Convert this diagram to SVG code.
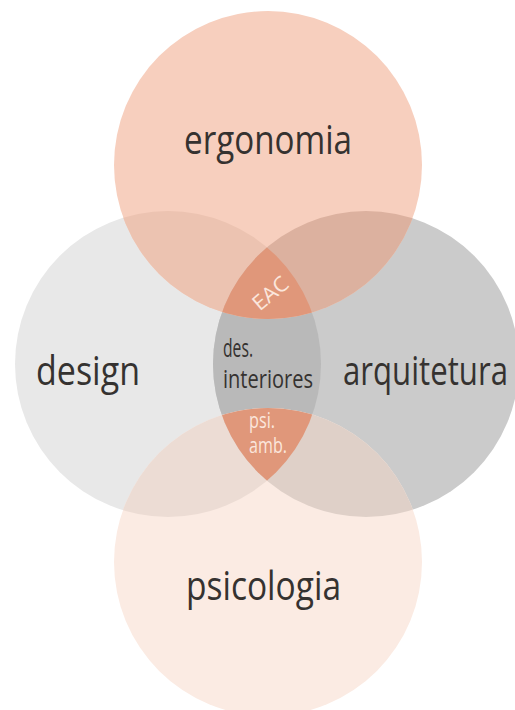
<svg xmlns="http://www.w3.org/2000/svg" width="515" height="710" viewBox="0 0 515 710">
  <defs>
    <clipPath id="clipL"><circle cx="168" cy="364" r="153"/></clipPath>
    <clipPath id="clipR"><circle cx="366" cy="364" r="153"/></clipPath>
    <style>
      .lbl { font-family: "Open Sans", "Liberation Sans", sans-serif; font-weight: 400; fill: #353230; }
      .big { font-size: 41px; }
      .mid { font-size: 26px; }
      .inv { font-family: "Open Sans", "Liberation Sans", sans-serif; font-weight: 400; fill: #fbe6dc; font-size: 21px; }
    </style>
  </defs>

  <rect width="515" height="710" fill="#ffffff"/>

  <!-- design -->
  <g id="design">
    <circle cx="168" cy="364" r="153" fill="#e8e8e8"/>
  </g>
  <!-- arquitetura -->
  <g id="arquitetura">
    <circle cx="366" cy="364" r="153" fill="#cbcbcb"/>
  </g>
  <!-- design ∩ arquitetura -->
  <g id="des-interiores-area">
    <circle cx="366" cy="364" r="153" fill="#b9b9b9" clip-path="url(#clipL)"/>
  </g>

  <!-- ergonomia -->
  <g id="ergonomia">
    <circle cx="268" cy="165" r="154" fill="#f7cfbe"/>
    <circle cx="268" cy="165" r="154" fill="#ecc3b1" clip-path="url(#clipL)"/>
    <circle cx="268" cy="165" r="154" fill="#dcb19f" clip-path="url(#clipR)"/>
    <g clip-path="url(#clipL)">
      <circle cx="268" cy="165" r="154" fill="#e0977a" clip-path="url(#clipR)"/>
    </g>
  </g>

  <!-- psicologia -->
  <g id="psicologia">
    <circle cx="268" cy="562" r="154" fill="#fbebe3"/>
    <circle cx="268" cy="562" r="154" fill="#ecdcd4" clip-path="url(#clipL)"/>
    <circle cx="268" cy="562" r="154" fill="#dfd0c8" clip-path="url(#clipR)"/>
    <g clip-path="url(#clipL)">
      <circle cx="268" cy="562" r="154" fill="#e0977a" clip-path="url(#clipR)"/>
    </g>
  </g>

  <!-- labels -->
  <g id="labels">
    <text class="lbl big" x="184" y="154" textLength="168" lengthAdjust="spacingAndGlyphs">ergonomia</text>
    <text class="lbl big" x="36" y="385" textLength="104" lengthAdjust="spacingAndGlyphs">design</text>
    <text class="lbl big" x="343" y="385" textLength="165" lengthAdjust="spacingAndGlyphs">arquitetura</text>
    <text class="lbl big" x="186" y="600" textLength="155" lengthAdjust="spacingAndGlyphs">psicologia</text>
    <text class="lbl mid" x="223" y="357" textLength="30" lengthAdjust="spacingAndGlyphs">des.</text>
    <text class="lbl mid" x="223" y="388" textLength="90" lengthAdjust="spacingAndGlyphs">interiores</text>
    <text class="inv" x="0" y="0" text-anchor="middle" textLength="40" lengthAdjust="spacingAndGlyphs" transform="translate(275 299) rotate(-40)">EAC</text>
    <text class="inv" x="249" y="428" textLength="26" lengthAdjust="spacingAndGlyphs">psi.</text>
    <text class="inv" x="249" y="453" textLength="38" lengthAdjust="spacingAndGlyphs">amb.</text>
  </g>
</svg>
